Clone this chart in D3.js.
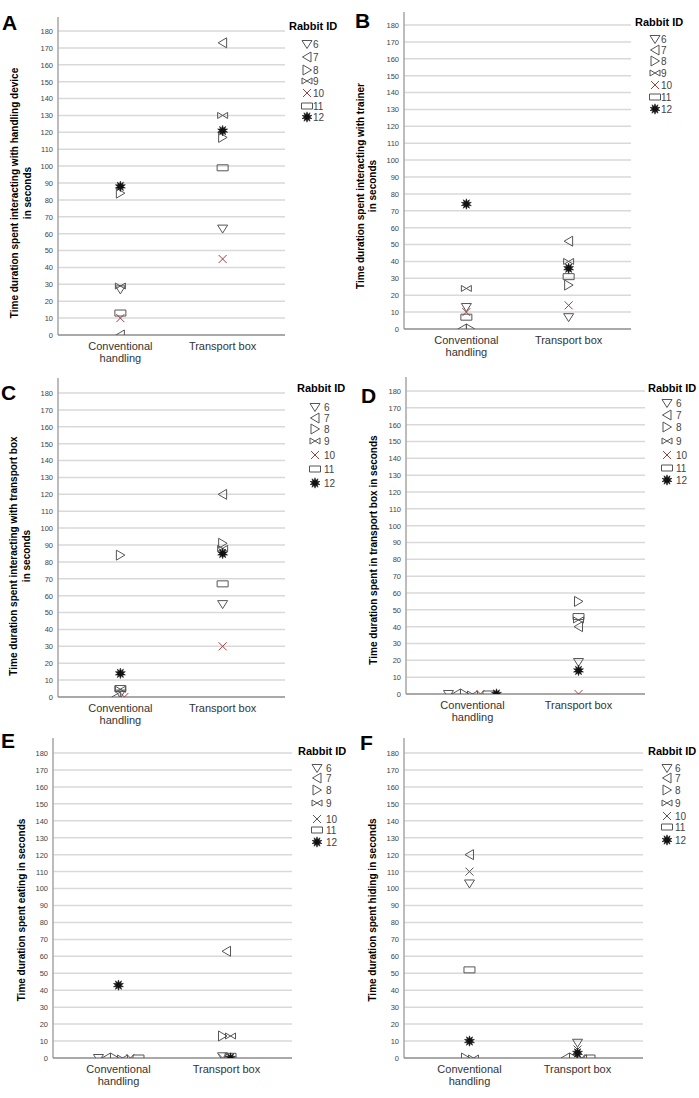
<!DOCTYPE html>
<html><head><meta charset="utf-8">
<script src="https://cdn.jsdelivr.net/npm/d3@7"></script>
<style>body{margin:0;background:#fff;} svg{display:block;font-family:"Liberation Sans",Arial,sans-serif;}</style>
</head><body><svg id="c" width="699" height="1098"></svg>
<script>
// ---------- data ----------
const categories = ["Conventional handling", "Transport box"];
const categoryLines = [["Conventional", "handling"], ["Transport box"]];
const rabbitIds = ["6", "7", "8", "9", "10", "11", "12"];
const yTickValues = [0,10,20,30,40,50,60,70,80,90,100,110,120,130,140,150,160,170,180];

// values in rabbit-id order 6,7,8,9,10,11,12
const handlingDeviceConv = [27, 0, 84, 29, 10, 13, 88];
const handlingDeviceBox  = [63, 173, 117, 130, 45, 99, 121];
const trainerConv        = [13, 0, 0, 24, 10, 7, 74];
const trainerBox         = [7, 52, 26, 40, 14, 31, 36];
const transportBoxConv   = [2, 0, 84, 4.6, 0, 5, 14];
const transportBoxBox    = [55, 120, 91, 88, 30, 67, 85];
const inBoxConv          = [0, 0, 0, 0, 0, 0, 0];
const inBoxBox           = [19, 40, 55, 44, 0, 46, 14];
const eatingConv         = [0, 0, 0, 0, 0, 0, 43];
const eatingBox          = [1, 63, 13, 13, 0, 1, 0];
const hidingConv         = [103, 120, 0, 0, 110, 52, 10];
const hidingBox          = [9, 0, 0, 0, 5, 0, 3];

const panelTitles = {
  A: ["Time duration spent interacting with handling device", "in seconds"],
  B: ["Time duration spent interacting with trainer", "in seconds"],
  C: ["Time duration spent interacting with transport box", "in seconds"],
  D: ["Time duration spent in transport box in seconds"],
  E: ["Time duration spent eating in seconds"],
  F: ["Time duration spent hiding in seconds"]
};
const panelValues = {
  A: [handlingDeviceConv, handlingDeviceBox],
  B: [trainerConv, trainerBox],
  C: [transportBoxConv, transportBoxBox],
  D: [inBoxConv, inBoxBox],
  E: [eatingConv, eatingBox],
  F: [hidingConv, hidingBox]
};

// ---------- layout ----------
const layout = [
  {id:"A", lx:2,   ly:30,  ax:58,  rx:285, y0:335,  y180:31,  top:17,  pad:0.61,  titleX:[14,27], titleY:193, legX:289, legY:30,  symX:307, textX:313, items:[44,57,70,81,93,106,117], xCol:"#a0403d"},
  {id:"B", lx:355, ly:28,  ax:404, rx:631, y0:329,  y180:25,  top:12,  pad:0.61,  titleX:[360,372], titleY:186, legX:635, legY:26, symX:655, textX:661, items:[39,50,61,73,85,97,109], xCol:"#a0403d"},
  {id:"C", lx:1,   ly:400, ax:58,  rx:285, y0:697,  y180:393, top:378, pad:0.61,  titleX:[13,26], titleY:556, legX:297, legY:392, symX:315, textX:324, items:[407,418,429,441,455,469,483], xCol:"#a0403d"},
  {id:"D", lx:361, ly:403, ax:406, rx:645, y0:694,  y180:391, top:377, pad:0.627, titleX:[373], titleY:550, legX:648, legY:392, symX:667, textX:676, items:[403,415,427,441,455,468,480], xCol:"#a0403d"},
  {id:"E", lx:1,   ly:748, ax:53,  rx:292, y0:1058, y180:753, top:738, pad:0.606, titleX:[21], titleY:910, legX:298, legY:755, symX:317, textX:326, items:[768,778,790,803,819,830,842], xCol:"#555"},
  {id:"F", lx:360, ly:750, ax:404, rx:643, y0:1058, y180:753, top:738, pad:0.606, titleX:[372], titleY:910, legX:648, legY:755, symX:667, textX:675, items:[768,778,790,803,816,827,840], xCol:"#555"}
];

// ---------- marker shapes ----------
function starPath(ro, ri, n) {
  const p = d3.path();
  for (let i = 0; i < 2*n; i++) {
    const r = i % 2 ? ri : ro, a = Math.PI * i / n - Math.PI/2;
    const x = r*Math.cos(a), y = r*Math.sin(a);
    i ? p.lineTo(x, y) : p.moveTo(x, y);
  }
  p.closePath(); return p.toString();
}
const shapes = {
  "6":  {d:"M-5,-3.5L5,-3.5L0,4.5Z", fill:"none"},
  "7":  {d:"M4,-5L4,5L-4.5,0Z", fill:"none"},
  "8":  {d:"M-4,-5L-4,5L4.5,0Z", fill:"none"},
  "9":  {d:"M-5,-3L5,3L5,-3L-5,3Z", fill:"none"},
  "10": {d:"M-4,-4L4,4M4,-4L-4,4", fill:"none", cross:true},
  "11": {d:"M-5.5,-3H5.5V3H-5.5Z", fill:"none"},
  "12": {d:starPath(5.2, 2.6, 10), fill:"#111"}
};

const svg = d3.select("#c");

layout.forEach(L => {
  const g = svg.append("g");
  const y = d3.scaleLinear().domain([0, 180]).range([L.y0, L.y180]);
  const x = d3.scalePoint().domain(categories).range([L.ax, L.rx]).padding(L.pad);

  // gridlines
  g.append("g").selectAll("line").data(yTickValues.filter(v => v > 0)).join("line")
    .attr("x1", L.ax).attr("x2", L.rx).attr("y1", d => y(d)).attr("y2", d => y(d))
    .attr("stroke", "#d9d9d9").attr("stroke-width", 1.5);

  // y axis
  const yAxis = d3.axisLeft(y).tickValues(yTickValues).tickSize(0).tickPadding(5);
  const ya = g.append("g").attr("transform", `translate(${L.ax},0)`).call(yAxis);
  ya.select(".domain").remove();
  ya.selectAll("text").attr("font-size", 7.5).attr("fill", "#444").attr("font-family", "Liberation Sans, Arial, sans-serif");
  g.append("line").attr("x1", L.ax).attr("x2", L.ax).attr("y1", L.top).attr("y2", L.y0)
    .attr("stroke", "#a6a6a6").attr("stroke-width", 1.5);

  // x axis
  const xAxis = d3.axisBottom(x).tickSize(0).tickFormat("");
  const xa = g.append("g").attr("transform", `translate(0,${L.y0})`).call(xAxis);
  xa.select(".domain").attr("stroke", "#8c8c8c").attr("stroke-width", 1.3).attr("d", `M${L.ax},0H${L.rx}`);
  categories.forEach((c, i) => {
    const t = g.append("text").attr("text-anchor", "middle").attr("font-size", 11).attr("fill", "#333");
    categoryLines[i].forEach((ln, k) => t.append("tspan").attr("x", x(c)).attr("y", L.y0 + 15 + 12*k).text(ln));
  });

  // title
  const lines = panelTitles[L.id];
  lines.forEach((ln, k) => {
    g.append("text").attr("transform", `translate(${L.titleX[k]},${L.titleY}) rotate(-90)`)
      .attr("text-anchor", "middle").attr("dy", "0.36em")
      .attr("font-size", 10).attr("font-weight", "bold").attr("fill", "#000").text(ln);
  });

  // panel letter
  g.append("text").attr("x", L.lx).attr("y", L.ly).attr("font-size", 21).attr("font-weight", "bold")
    .attr("fill", "#000").text(L.id);

  // points
  const clipId = "clip" + L.id;
  svg.append("clipPath").attr("id", clipId).append("rect")
    .attr("x", L.ax).attr("y", L.top - 10).attr("width", L.rx - L.ax).attr("height", L.y0 - L.top + 10);
  const pts = [];
  panelValues[L.id].forEach((vals, ci) => {
    const groups = d3.group(vals.map((v, i) => ({v, i, ci})), d => d.v);
    groups.forEach(arr => {
      arr.forEach((d, k) => { d.off = (k - (arr.length - 1)/2) * 8; pts.push(d); });
    });
  });
  const pg = g.append("g").attr("clip-path", `url(#${clipId})`);
  pg.selectAll("path").data(pts).join("path")
    .attr("transform", d => `translate(${x(categories[d.ci]) + d.off},${y(d.v)})`)
    .attr("d", d => shapes[rabbitIds[d.i]].d)
    .attr("fill", d => shapes[rabbitIds[d.i]].fill)
    .attr("stroke", d => rabbitIds[d.i] === "10" ? L.xCol : (rabbitIds[d.i] === "12" ? "#111" : "#555"))
    .attr("stroke-width", d => rabbitIds[d.i] === "12" ? 0.6 : 1);

  // legend
  g.append("text").attr("x", L.legX).attr("y", L.legY).attr("font-size", 11).attr("font-weight", "bold")
    .attr("fill", "#000").text("Rabbit ID");
  const lg = g.append("g").selectAll("g").data(rabbitIds).join("g")
    .attr("transform", (d, i) => `translate(0,${L.items[i]})`);
  lg.append("path").attr("transform", `translate(${L.symX},0)`)
    .attr("d", d => shapes[d].d).attr("fill", d => shapes[d].fill)
    .attr("stroke", d => d === "10" ? L.xCol : (d === "12" ? "#111" : "#555"))
    .attr("stroke-width", d => d === "12" ? 0.6 : 1);
  lg.append("text").attr("x", L.textX).attr("dy", "0.36em").attr("font-size", 10).attr("fill", "#444").text(d => d);
});
</script></body></html>
